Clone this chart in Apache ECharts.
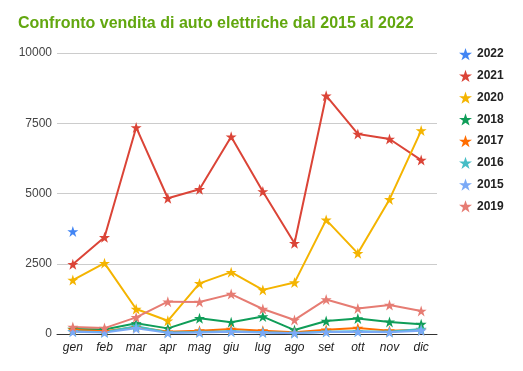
<!DOCTYPE html>
<html><head><meta charset="utf-8">
<script src="https://cdn.jsdelivr.net/npm/echarts@6/dist/echarts.min.js"></script>
<style>html,body{margin:0;padding:0;background:#fff}#c{width:523px;height:371px}</style>
</head><body><div id="c"></div>
<script>
const months = ['gen','feb','mar','apr','mag','giu','lug','ago','set','ott','nov','dic'];
const yTicks = [0, 2500, 5000, 7500, 10000];
const s2022 = [3650, null, null, null, null, null, null, null, null, null, null, null];
const s2021 = [2480, 3440, 7350, 4830, 5150, 7020, 5070, 3230, 8480, 7120, 6940, 6190];
const s2020 = [1920, 2520, 890, 470, 1800, 2200, 1570, 1830, 4060, 2870, 4790, 7240];
const s2018 = [180, 160, 380, 200, 560, 420, 620, 140, 460, 550, 430, 350];
const s2017 = [150, 100, 250, 80, 120, 180, 120, 60, 150, 210, 120, 150];
const s2016 = [100, 60, 280, 50, 70, 100, 60, 40, 80, 100, 80, 180];
const s2015 = [80, 50, 200, 40, 50, 80, 50, 30, 70, 80, 60, 120];
const s2019 = [250, 210, 590, 1150, 1140, 1420, 890, 500, 1230, 910, 1030, 820];

const star = 'path://M50,0 L61.8,35.5 L99,35.5 L69,57.5 L80.5,93 L50,71 L19.5,93 L31,57.5 L1,35.5 L38.2,35.5 Z';
const seriesDefs = [
  ['2022', s2022, '#4285f4'],
  ['2021', s2021, '#db4437'],
  ['2020', s2020, '#f4b400'],
  ['2018', s2018, '#0f9d58'],
  ['2017', s2017, '#ff6d01'],
  ['2016', s2016, '#46bdc6'],
  ['2015', s2015, '#7baaf7'],
  ['2019', s2019, '#e67c73']
];
const chart = echarts.init(document.getElementById('c'));
chart.setOption({
  animation: false,
  title: { text: 'Confronto vendita di auto elettriche dal 2015 al 2022', left: 13, top: 11,
    textStyle: { color: '#62a70f', fontSize: 16, fontWeight: 'bold', fontFamily: 'Liberation Sans, Arial' } },
  legend: {
    orient: 'vertical', left: 454, top: 43, itemGap: 9.4, itemWidth: 13, itemHeight: 13,
    data: seriesDefs.map(d => ({ name: d[0], icon: star })),
    textStyle: { fontSize: 12, fontWeight: 'bold', color: '#222', fontFamily: 'Liberation Sans, Arial' }
  },
  grid: { left: 57, right: 86, top: 53, bottom: 37 },
  xAxis: {
    type: 'category', data: months, boundaryGap: true,
    axisLine: { lineStyle: { color: '#333', width: 1 } },
    axisTick: { show: false },
    axisLabel: { fontStyle: 'italic', fontSize: 12, color: '#222', margin: 8, fontFamily: 'Liberation Sans, Arial' }
  },
  yAxis: {
    type: 'value', min: yTicks[0], max: yTicks[yTicks.length - 1], interval: 2500,
    axisLine: { show: false }, axisTick: { show: false },
    splitLine: { lineStyle: { color: '#cccccc' } },
    axisLabel: { fontSize: 12, color: '#444', margin: 5, fontFamily: 'Liberation Sans, Arial',
      formatter: v => String(v) }
  },
  series: seriesDefs.map(d => ({
    name: d[0], type: 'line', data: d[1], symbol: star, symbolSize: 11, showSymbol: true,
    connectNulls: false,
    itemStyle: { color: d[2] }, lineStyle: { color: d[2], width: 2 }
  }))
});
</script></body></html>
